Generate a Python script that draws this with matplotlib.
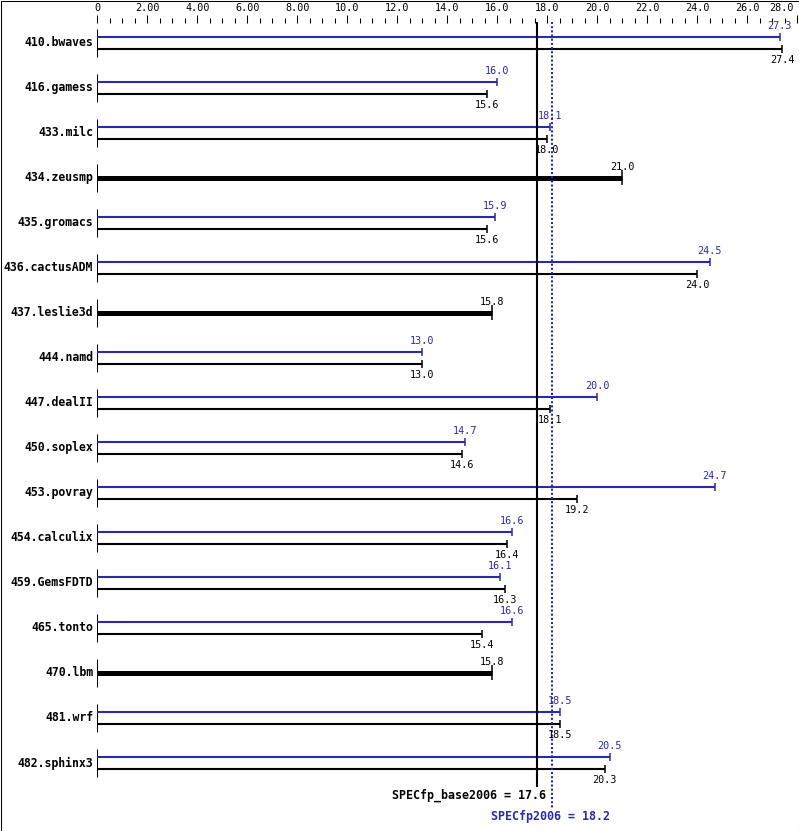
import matplotlib.pyplot as plt
from matplotlib.patches import Rectangle
from matplotlib.ticker import MultipleLocator, FuncFormatter

benchmarks = ["410.bwaves", "416.gamess", "433.milc", "434.zeusmp", "435.gromacs",
              "436.cactusADM", "437.leslie3d", "444.namd", "447.dealII", "450.soplex",
              "453.povray", "454.calculix", "459.GemsFDTD", "465.tonto", "470.lbm",
              "481.wrf", "482.sphinx3"]
# None = no peak run (base only, drawn as thick bar)
peak = [27.3, 16.0, 18.1, None, 15.9, 24.5, None, 13.0, 20.0, 14.7, 24.7, 16.6, 16.1,
        16.6, None, 18.5, 20.5]
base = [27.4, 15.6, 18.0, 21.0, 15.6, 24.0, 15.8, 13.0, 18.1, 14.6, 19.2, 16.4, 16.3,
        15.4, 15.8, 18.5, 20.3]
spec_base = 17.6
spec_peak = 18.2
x_max = 28.0

BLUE = '#2a2aa8'
W, H = 799, 831
ROW = 45.0  # pixels between rows
plt.rcParams['font.family'] = ['DejaVu Sans Mono']

fig = plt.figure(figsize=(W / 100, H / 100), dpi=100)
ax = fig.add_axes([97.3 / W, 0, 700 / W, 808 / H])
ax.set_xlim(0, x_max)
ax.set_ylim((831 - 43) / ROW, (23 - 43) / ROW)
for s in ax.spines.values():
    s.set_visible(False)

def px(p):
    return p / ROW

def fmt(v):
    if v == 0:
        return "0"
    return "%.2f" % v if v < 10 else "%.1f" % v

# top axis
ax.xaxis.tick_top()
ax.yaxis.set_visible(False)
ax.xaxis.set_major_locator(MultipleLocator(2))
ax.xaxis.set_minor_locator(MultipleLocator(0.5))
# last label would run off the edge, it is drawn separately below
ax.xaxis.set_major_formatter(FuncFormatter(lambda v, p: "" if v >= x_max else fmt(v)))
ax.tick_params(axis='x', which='major', direction='out', length=5.8, width=0.75,
               labelsize=7.3, pad=1.5)
ax.tick_params(axis='x', which='minor', direction='out', length=3.6, width=0.75)
ax.text(x_max - 0.15, px(8 - 43), fmt(x_max), ha='right', va='center', fontsize=7.3,
        clip_on=False)

for i, name in enumerate(benchmarks):
    ax.vlines(0, i - px(13.5), i + px(14), color='black', lw=0.75)
    ax.text(-0.16, i, name, ha='right', va='center', fontsize=8.3, fontweight='bold')
    b = base[i]
    p = peak[i]
    if p is None:
        ax.hlines(i, 0, b, color='black', lw=3.6)
        ax.vlines(b, i - px(7.5), i + px(7.5), color='black', lw=1.1)
        ax.text(b, i - px(11), "%.1f" % b, ha='center', va='center', fontsize=7.3)
    else:
        yp = i - px(6)
        ax.hlines(yp, 0, p, color=BLUE, lw=1.5)
        ax.vlines(p, yp - px(4), yp + px(4), color=BLUE, lw=1.1)
        ax.text(p, yp - px(11), "%.1f" % p, ha='center', va='center', fontsize=7.3,
                color=BLUE)
        yb = i + px(6)
        ax.hlines(yb, 0, b, color='black', lw=1.5)
        ax.vlines(b, yb - px(4), yb + px(4), color='black', lw=1.1)
        ax.text(b, yb + px(11), "%.1f" % b, ha='center', va='center', fontsize=7.3)

# overall metric lines
top = px(22 - 43)
ax.vlines(spec_base, top, px(787 - 43), color='black', lw=1.5, clip_on=False)
ax.vlines(spec_peak, top, px(809 - 43), color=BLUE, lw=1.5, linestyles=(0, (1, 1)),
          clip_on=False)
ax.text(spec_base + 0.36, px(795 - 43), "SPECfp_base2006 = %.1f" % spec_base,
        ha='right', va='center', fontsize=8.4, fontweight='bold')
ax.text(spec_peak - 0.08, px(817 - 43), "SPECfp2006 = %.1f" % spec_peak,
        ha='center', va='center', fontsize=8.4, fontweight='bold', color=BLUE)

fig.patches.append(Rectangle((0.5 / W, 0.5 / H), 1 - 1 / W, 1 - 1 / H,
                             transform=fig.transFigure, fill=False, ec='black', lw=0.75))

fig.savefig("out.png", dpi=100, facecolor='white')
